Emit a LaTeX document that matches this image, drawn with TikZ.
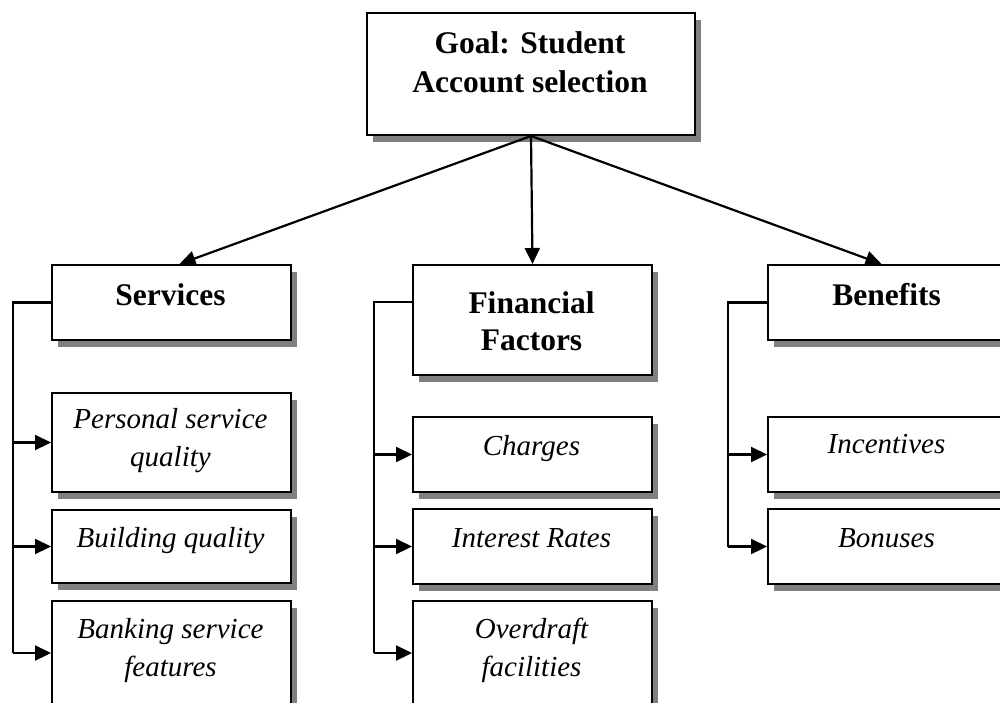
\documentclass[tikz,border=0pt]{standalone}
\usepackage{fontspec}
\setmainfont{Liberation Serif}
\usetikzlibrary{arrows.meta,shadows,calc}
\definecolor{shade}{HTML}{808080}
\tikzset{
  box/.style={draw, line width=2pt, fill=white, rectangle, inner sep=0pt,
    anchor=north west,
    drop shadow={shadow xshift=6pt, shadow yshift=-7pt, fill=shade, opacity=1}},
  head/.style={anchor=base, inner sep=0pt, font=\bfseries\fontsize{31.5}{38}\selectfont},
  item/.style={anchor=base, inner sep=0pt, font=\itshape\fontsize{29}{38}\selectfont},
  link/.style={line width=2.2pt, -{Triangle[length=16pt,width=15pt]}},
  rail/.style={line width=2.2pt, line join=miter},
}
\begin{document}
\begin{tikzpicture}[x=1pt,y=-1pt]
\useasboundingbox (0,0) rectangle (1000,702);
\clip (0,0) rectangle (1000,702);

% goal
\node[box, minimum width=328pt, minimum height=122pt] (goal) at (366,12) {};

% criteria
\node[box, minimum width=239pt, minimum height=75pt]  (serv) at (51,264) {};
\node[box, minimum width=239pt, minimum height=110pt] (fin)  at (412,264) {};
\node[box, minimum width=239pt, minimum height=75pt]  (ben)  at (767,264) {};

% sub-criteria: services
\node[box, minimum width=239pt, minimum height=99pt]  (pers)  at (51,392) {};
\node[box, minimum width=239pt, minimum height=73pt]  (build) at (51,509) {};
\node[box, minimum width=239pt, minimum height=104pt] (bank)  at (51,600) {};

% sub-criteria: financial factors
\node[box, minimum width=239pt, minimum height=75pt]  (charg) at (412,416) {};
\node[box, minimum width=239pt, minimum height=75pt]  (inter) at (412,508) {};
\node[box, minimum width=239pt, minimum height=104pt] (over)  at (412,600) {};

% sub-criteria: benefits
\node[box, minimum width=239pt, minimum height=75pt]  (incent) at (767,416) {};
\node[box, minimum width=239pt, minimum height=75pt]  (bonus)  at (767,508) {};

% labels
\node[head] (goalA) at (530,53) {Goal: Student};
\node[head] (goalB) at (530,92) {Account selection};
\node[head] (servT) at (170.5,305) {Services};
\node[head] (finA)  at (531.5,313) {Financial};
\node[head] (finB)  at (531.5,350) {Factors};
\node[head] (benT)  at (886.5,305) {Benefits};

\node[item] (persA)  at (170.5,428) {Personal service};
\node[item] (persB)  at (170.5,466) {quality};
\node[item] (buildT) at (170.5,547) {Building quality};
\node[item] (bankA)  at (170.5,638) {Banking service};
\node[item] (bankB)  at (170.5,676) {features};

\node[item] (chargT) at (531.5,455) {Charges};
\node[item] (interT) at (531.5,547) {Interest Rates};
\node[item] (overA)  at (531.5,638) {Overdraft};
\node[item] (overB)  at (531.5,676) {facilities};

\node[item] (incT) at (886.5,453) {Incentives};
\node[item] (bonT) at (886.5,547) {Bonuses};

% goal to criteria
\draw[link] (goal.south) -- ($(serv.north)+(8,0)$);
\draw[link] (goal.south) -- (fin.north);
\draw[link] (goal.south) -- ($(ben.north)+(-6,0)$);

% services branch
\draw[rail] (serv.west) -- ++(-38,0) coordinate (sv) -- (sv |- bank.west);
\foreach \t in {pers,build,bank}
  \draw[link] (sv |- \t.west) -- (\t.west);

% financial factors branch
\draw[rail] ($(fin.north west)+(0,38)$) -- ++(-38,0) coordinate (fv) -- (fv |- over.west);
\foreach \t in {charg,inter,over}
  \draw[link] (fv |- \t.west) -- (\t.west);

% benefits branch
\draw[rail] (ben.west) -- ++(-39,0) coordinate (bv) -- (bv |- bonus.west);
\foreach \t in {incent,bonus}
  \draw[link] (bv |- \t.west) -- (\t.west);
\end{tikzpicture}
\end{document}
